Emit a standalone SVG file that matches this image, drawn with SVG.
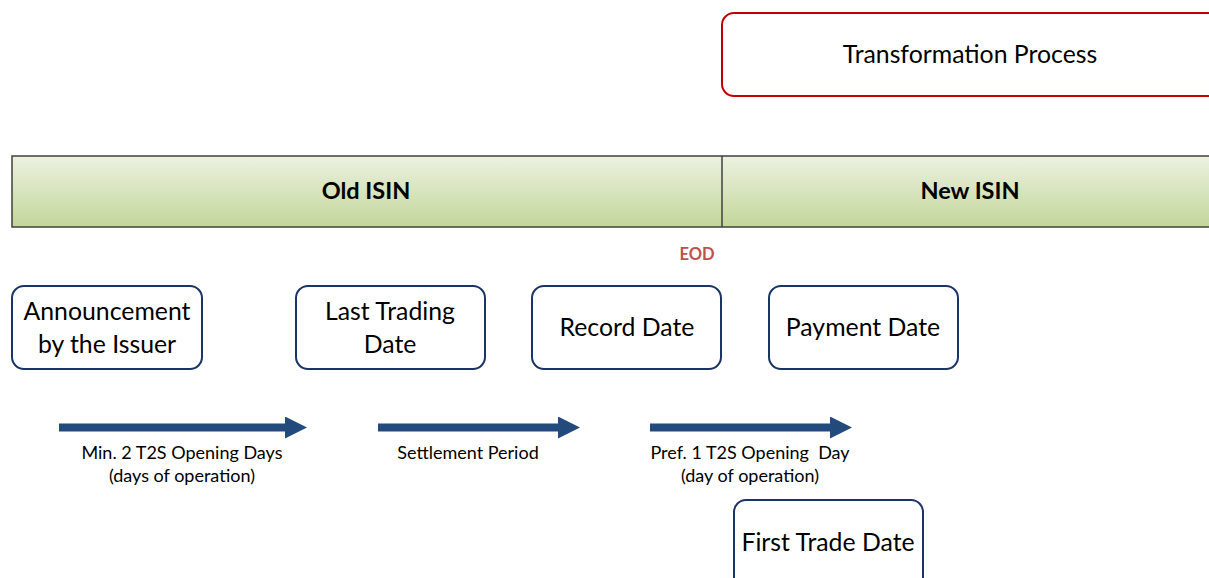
<svg xmlns="http://www.w3.org/2000/svg" width="1209" height="578" viewBox="0 0 1209 578">
<defs>
<linearGradient id="barGrad" x1="0" y1="0" x2="0" y2="1">
<stop offset="0" stop-color="#ecf2e0"/>
<stop offset="1" stop-color="#c3d69b"/>
</linearGradient>
<marker id="head" viewBox="0 0 22 22" refX="0" refY="11" markerWidth="22" markerHeight="22" markerUnits="userSpaceOnUse" orient="auto">
<path d="M0,0 L22,11 L0,22 Z" fill="#234a7d"/>
</marker>
</defs>
<style>
text{font-family:Lato,"Open Sans","Liberation Sans",sans-serif;fill:#000;text-anchor:middle}
.node rect{fill:#fff;stroke:#1a3466;stroke-width:2}
.node text{font-size:24.8px}
.bar{fill:url(#barGrad);stroke:#404040;stroke-width:1.5}
.bartxt{font-size:23.5px;font-weight:bold}
.lbl{font-size:18px}
.conn line{stroke:#234a7d;stroke-width:8}
</style>
<g id="transformation" class="node">
<rect x="722" y="13" width="520" height="83" rx="12" style="stroke:#c00000"/>
<text x="970" y="63">Transformation Process</text>
</g>
<g id="isin-bar">
<rect class="bar" x="12" y="156" width="1220" height="71"/>
<line x1="722" y1="156" x2="722" y2="227" stroke="#404040" stroke-width="1.5"/>
<text class="bartxt" x="366" y="199">Old ISIN</text>
<text class="bartxt" x="970" y="199">New ISIN</text>
</g>
<text id="eod" x="697" y="260" style="font-size:16.5px;font-weight:bold;fill:#c0504d">EOD</text>
<g id="announcement" class="node">
<rect x="12" y="286" width="190" height="83" rx="12"/>
<text x="107" y="320">Announcement</text>
<text x="107" y="353">by the Issuer</text>
</g>
<g id="last-trading" class="node">
<rect x="296" y="286" width="189" height="83" rx="12"/>
<text x="390" y="320">Last Trading</text>
<text x="390" y="353">Date</text>
</g>
<g id="record-date" class="node">
<rect x="532" y="286" width="189" height="83" rx="12"/>
<text x="627" y="336">Record Date</text>
</g>
<g id="payment-date" class="node">
<rect x="769" y="286" width="189" height="83" rx="12"/>
<text x="863" y="336">Payment Date</text>
</g>
<g id="first-trade" class="node">
<rect x="734" y="500" width="189" height="90" rx="12"/>
<text x="828" y="551">First Trade Date</text>
</g>
<g id="connectors" class="conn">
<line x1="59" y1="427.5" x2="285" y2="427.5" marker-end="url(#head)"/>
<line x1="378" y1="427.5" x2="558" y2="427.5" marker-end="url(#head)"/>
<line x1="650" y1="427.5" x2="830" y2="427.5" marker-end="url(#head)"/>
</g>
<g id="labels">
<text class="lbl" x="182" y="459">Min. 2 T2S Opening Days</text>
<text class="lbl" x="182" y="482">(days of operation)</text>
<text class="lbl" x="468" y="459">Settlement Period</text>
<text class="lbl" x="750" y="459" style="white-space:pre">Pref. 1 T2S Opening  Day</text>
<text class="lbl" x="750" y="482">(day of operation)</text>
</g>
</svg>
